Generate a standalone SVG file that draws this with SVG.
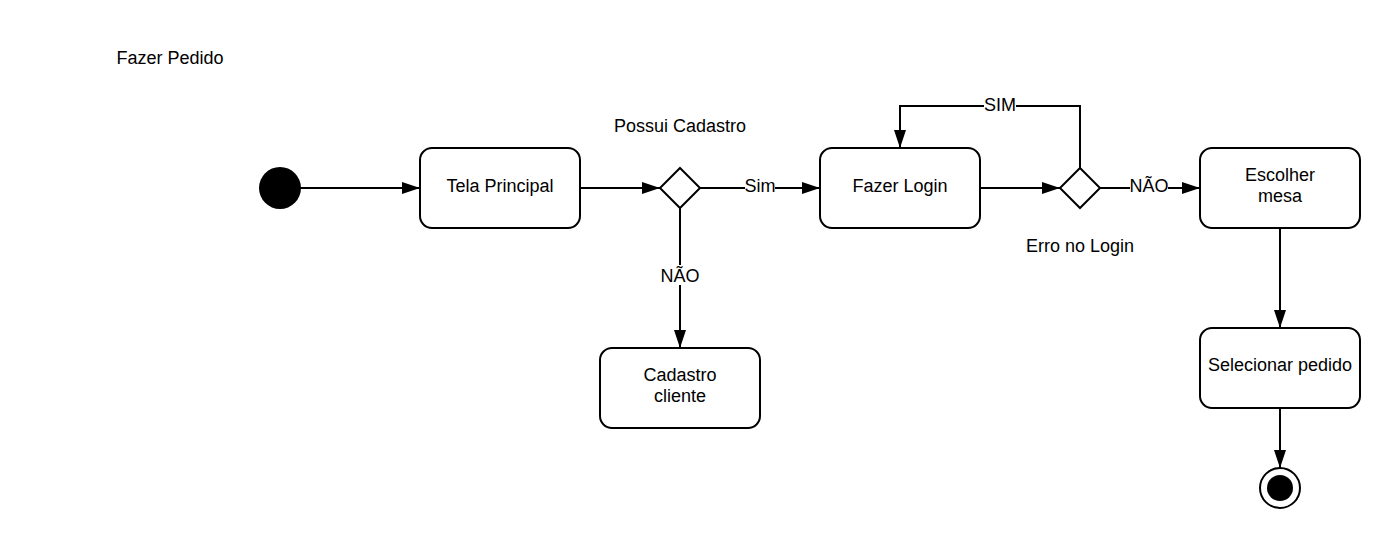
<svg xmlns="http://www.w3.org/2000/svg" width="1400" height="548" viewBox="0 0 1400 548">
<style>
.n{fill:#fff;stroke:#000;stroke-width:2}
.t{font-family:"Liberation Sans",Arial,sans-serif;font-size:18px;fill:#000;text-anchor:middle}
.c{fill:none;stroke:#000;stroke-width:2}
.lb{fill:#fff}
</style>
<defs>
<marker id="a" viewBox="0 0 18 12" refX="18" refY="6" markerWidth="18" markerHeight="12" markerUnits="userSpaceOnUse" orient="auto">
<path d="M0,0 L18,6 L0,12 z" fill="#000"/>
</marker>
</defs>
<rect width="1400" height="548" fill="#fff"/>
<text class="t" x="170" y="64">Fazer Pedido</text>
<g id="connectors">
<path class="c" d="M300,188 H420" marker-end="url(#a)"/>
<path class="c" d="M580,188 H660" marker-end="url(#a)"/>
<path class="c" d="M700,188 H820" marker-end="url(#a)"/>
<path class="c" d="M680,208 V348" marker-end="url(#a)"/>
<path class="c" d="M980,188 H1060" marker-end="url(#a)"/>
<path class="c" d="M1080,168 V106 H900 V148" marker-end="url(#a)"/>
<path class="c" d="M1100,188 H1200" marker-end="url(#a)"/>
<path class="c" d="M1280,228 V328" marker-end="url(#a)"/>
<path class="c" d="M1280,408 V468" marker-end="url(#a)"/>
<rect class="lb" x="745" y="177" width="30" height="20"/>
<text class="t" x="760" y="192">Sim</text>
<rect class="lb" x="660" y="265" width="40" height="20"/>
<text class="t" x="680" y="282">NÃO</text>
<rect class="lb" x="984" y="95" width="32" height="20"/>
<text class="t" x="1000" y="111">SIM</text>
<rect class="lb" x="1130" y="176" width="38" height="20"/>
<text class="t" x="1149" y="192">NÃO</text>
</g>
<g id="start"><circle cx="280" cy="188" r="21" fill="#000"/></g>
<g id="tela"><rect class="n" x="420" y="148" width="160" height="80" rx="12"/><text class="t" x="500" y="192">Tela Principal</text></g>
<g id="d1"><path class="n" d="M680,168 L700,188 L680,208 L660,188 z"/><text class="t" x="680" y="132">Possui Cadastro</text></g>
<g id="cadastro"><rect class="n" x="600" y="348" width="160" height="80" rx="12"/><text class="t" x="680" y="381">Cadastro</text><text class="t" x="680" y="402">cliente</text></g>
<g id="login"><rect class="n" x="820" y="148" width="160" height="80" rx="12"/><text class="t" x="900" y="192">Fazer Login</text></g>
<g id="d2"><path class="n" d="M1080,168 L1100,188 L1080,208 L1060,188 z"/><text class="t" x="1080" y="252">Erro no Login</text></g>
<g id="mesa"><rect class="n" x="1200" y="148" width="160" height="80" rx="12"/><text class="t" x="1280" y="181">Escolher</text><text class="t" x="1280" y="202">mesa</text></g>
<g id="pedido"><rect class="n" x="1200" y="328" width="160" height="80" rx="12"/><text class="t" x="1280" y="371">Selecionar pedido</text></g>
<g id="end"><circle cx="1280" cy="488" r="20" fill="#fff" stroke="#000" stroke-width="2"/><circle cx="1280" cy="488" r="13" fill="#000"/></g>
</svg>
